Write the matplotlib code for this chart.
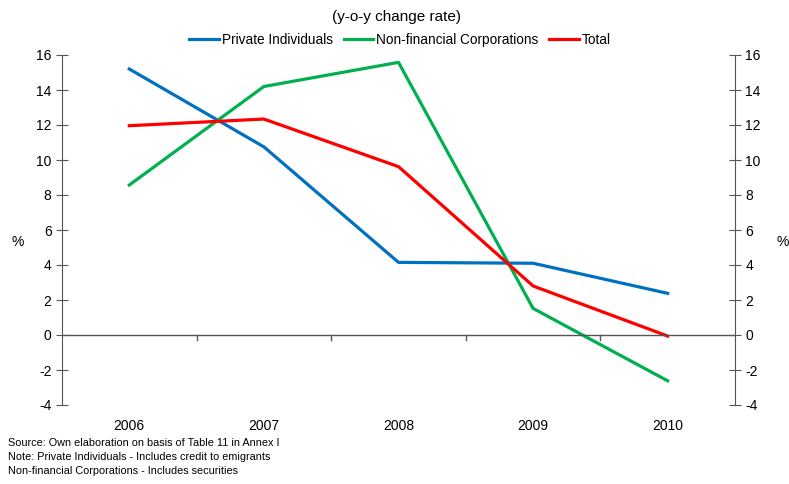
import matplotlib
matplotlib.use('Agg')
import matplotlib.pyplot as plt
import numpy as np

plt.rcParams['font.family'] = ['Liberation Sans', 'DejaVu Sans']
plt.rcParams['axes.unicode_minus'] = False

YEARS = ['2006', '2007', '2008', '2009', '2010']
PRIVATE = [15.2, 10.75, 4.15, 4.1, 2.38]
NON_FIN = [8.57, 14.2, 15.58, 1.52, -2.62]
TOTAL = [11.96, 12.34, 9.62, 2.8, -0.06]

fig = plt.figure(figsize=(7.89, 4.84), dpi=100)
ax = fig.add_axes([62 / 789, 1 - 405 / 484, (735 - 62) / 789, 350 / 484])

x = np.arange(len(YEARS))
ax.plot(x, PRIVATE, color='#0070C0', lw=2.3, label='Private Individuals')
ax.plot(x, NON_FIN, color='#00B050', lw=2.3, label='Non-financial Corporations')
ax.plot(x, TOTAL, color='#FF0000', lw=2.3, label='Total')

ax.set_xlim(-0.5, len(YEARS) - 0.5)
ax.set_ylim(-4, 16)
ax.set_yticks(range(-4, 17, 2))

for s in ['top', 'bottom']:
    ax.spines[s].set_visible(False)
for s in ['left', 'right']:
    ax.spines[s].set_color('#555555')
ax.axhline(0, color='#555555', lw=1)
for b in np.arange(0.5, len(YEARS) - 1, 1):
    ax.plot([b, b], [0, -0.3], color='#555555', lw=1)

ax.set_xticks(x)
ax.set_xticklabels(YEARS, fontsize=10)
ax.tick_params(axis='x', length=0, pad=10)
ax.tick_params(axis='y', direction='inout', length=8, color='#555555',
               labelsize=10, left=True, right=True, labelleft=True, labelright=True)

fig.text(18 / 789, 1 - 242 / 484, '%', fontsize=10, ha='center', va='center')
fig.text(783 / 789, 1 - 242 / 484, '%', fontsize=10, ha='center', va='center')
fig.text(397 / 789, 1 - 17 / 484, '(y-o-y change rate)', fontsize=11,
         ha='center', va='center')

fig.legend(loc='center', bbox_to_anchor=(400 / 789, 1 - 40 / 484), ncol=3,
           frameon=False, fontsize=9.8, handlelength=2.2, handletextpad=0.2,
           columnspacing=0.8)

notes = ['Source: Own elaboration on basis of Table 11 in Annex I',
         'Note: Private Individuals - Includes credit to emigrants',
         'Non-financial Corporations - Includes securities']
for i, t in enumerate(notes):
    fig.text(8 / 789, 1 - (443 + i * 14) / 484, t, fontsize=7.8, va='center')

fig.savefig('out.png', dpi=100)
